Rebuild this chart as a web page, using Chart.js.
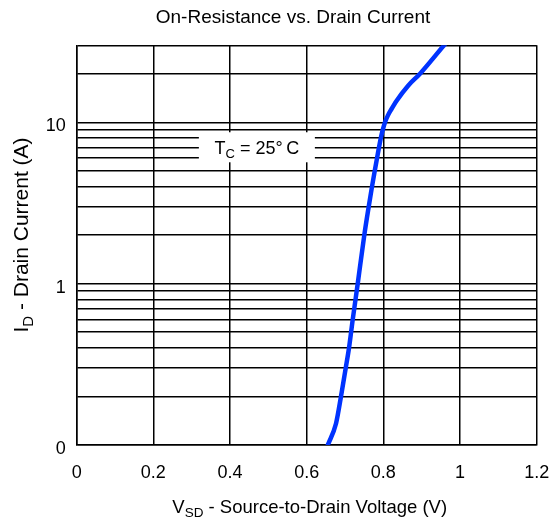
<!DOCTYPE html>
<html>
<head>
<meta charset="utf-8">
<script src="https://cdn.jsdelivr.net/npm/chart.js@4.4.0/dist/chart.umd.min.js"></script>
<style>
  html, body { margin: 0; padding: 0; background: #fff; }
</style>
</head>
<body>
<canvas id="chart" width="560" height="523"></canvas>
<script>
// curve: source-to-drain voltage (V) vs drain current (A)
const voltage = [0.655, 0.6765, 0.6895, 0.7018, 0.7104, 0.7201, 0.7331, 0.7503, 0.7618, 0.7704, 0.7775, 0.7835, 0.7934, 0.7986, 0.8043, 0.8116, 0.8205, 0.8346, 0.8640, 0.8956, 0.963];
const current = [0.1, 0.136, 0.2, 0.3, 0.4, 0.6, 1, 2, 3, 4, 5, 6, 8, 9, 10, 11, 12, 13.6, 16.8, 20, 31];

const xTickValues = [0, 0.2, 0.4, 0.6, 0.8, 1, 1.2];
const yGridValues = [0.1, 0.2, 0.3, 0.4, 0.5, 0.6, 0.7, 0.8, 0.9, 1, 2, 3, 4, 5, 6, 7, 8, 9, 10, 20, 30];
const yTickValues = [0.1, 1, 10];
const yTickLabels = ['0', '1', '10'];

const titleText = 'On-Resistance vs. Drain Current';
const note = { x: 0.47, y: 7, parts: [['T', 18, 0], ['C', 13, 4], [' = 25\u00B0\u2009C', 18, 0]] };

const FONT = '"Liberation Sans", Arial, sans-serif';

function drawParts(ctx, parts, cx, baseY) {
    let total = 0;
    parts.forEach(p => { ctx.font = p[1] + 'px ' + FONT; total += ctx.measureText(p[0]).width; });
    let x = cx - total / 2;
    ctx.textAlign = 'left';
    ctx.textBaseline = 'alphabetic';
    parts.forEach(p => {
        ctx.font = p[1] + 'px ' + FONT;
        ctx.fillText(p[0], x, baseY + p[2]);
        x += ctx.measureText(p[0]).width;
    });
    return total;
}

const textPlugin = {
    id: 'texts',
    afterDraw(chart) {
        const { ctx, chartArea, scales } = chart;
        ctx.save();
        ctx.fillStyle = '#000';

        // main title
        ctx.font = '19px ' + FONT;
        ctx.textAlign = 'center';
        ctx.textBaseline = 'alphabetic';
        ctx.fillText(titleText, 293, 23);

        // x axis title
        const cx = (chartArea.left + chartArea.right) / 2;
        drawParts(ctx, [['V', 18.5, 0], ['SD', 13.5, 4], [' - Source-to-Drain Voltage (V)', 18.5, 0]], cx + 3, 513);

        // y axis title
        ctx.save();
        ctx.translate(13, 235);
        ctx.rotate(-Math.PI / 2);
        drawParts(ctx, [['I', 21, 0], ['D', 15, 5], [' - Drain Current (A)', 21, 0]], 0, 15);
        ctx.restore();

        // temperature note on a white box
        const px = scales.x.getPixelForValue(note.x);
        const py = scales.y.getPixelForValue(note.y);
        ctx.fillStyle = '#fff';
        ctx.fillRect(px - 58, py - 15, 116, 30);
        ctx.fillStyle = '#000';
        drawParts(ctx, note.parts, px, py + 7);
        ctx.restore();
    }
};

const points = voltage.map((v, i) => ({ x: v, y: current[i] }));

new Chart(document.getElementById('chart'), {
    type: 'line',
    data: {
        datasets: [{
            data: points,
            borderColor: '#0033ff',
            borderWidth: 4.5,
            borderCapStyle: 'round',
            pointRadius: 0,
            cubicInterpolationMode: 'monotone',
            fill: false
        }]
    },
    options: {
        responsive: false,
        animation: false,
        devicePixelRatio: 1,
        layout: { padding: { top: 45.3, right: 23.3, left: 0, bottom: 0 } },
        plugins: {
            legend: { display: false },
            title: { display: false },
            tooltip: { enabled: false }
        },
        scales: {
            x: {
                type: 'linear',
                min: 0,
                max: 1.2,
                afterBuildTicks: s => { s.ticks = xTickValues.map(v => ({ value: v })); },
                afterFit: s => { s.height = 78; s.paddingLeft = 0; s.paddingRight = 0; },
                grid: { color: '#000', lineWidth: 1.5, drawTicks: false },
                border: { color: '#000', width: 1.5 },
                ticks: {
                    padding: 17,
                    color: '#000',
                    font: { family: FONT, size: 18 },
                    autoSkip: false,
                    maxRotation: 0,
                    callback: v => String(+v.toFixed(1))
                }
            },
            y: {
                type: 'logarithmic',
                min: 0.1,
                max: 30,
                afterBuildTicks: s => { s.ticks = yGridValues.map(v => ({ value: v })); },
                afterFit: s => { s.width = 76.7; s.paddingTop = 0; s.paddingBottom = 0; },
                grid: { color: '#000', lineWidth: 1.5, drawTicks: false },
                border: { color: '#000', width: 1.5 },
                ticks: {
                    padding: 11,
                    labelOffset: 4,
                    color: '#000',
                    font: { family: FONT, size: 18 },
                    autoSkip: false,
                    callback: v => {
                        const k = yTickValues.findIndex(t => Math.abs(t - v) < 1e-9);
                        return k >= 0 ? yTickLabels[k] : '';
                    }
                }
            }
        }
    },
    plugins: [textPlugin]
});
</script>
</body>
</html>
